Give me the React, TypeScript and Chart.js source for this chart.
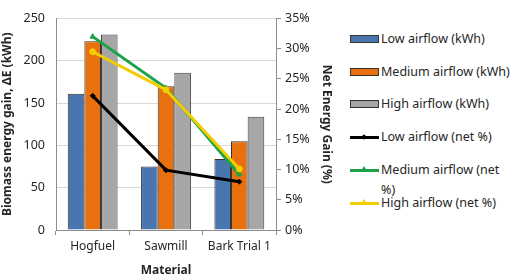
import React, { useEffect, useRef } from "react";
import { Chart, registerables } from "chart.js";

Chart.register(...registerables);

const categories = ["Hogfuel", "Sawmill", "Bark Trial 1"];
const lowKwh = [161, 75, 84];
const mediumKwh = [223, 170, 105];
const highKwh = [231, 186, 134];
const lowNet = [22.2, 9.9, 8.0];
const mediumNet = [32.0, 23.5, 9.2];
const highNet = [29.5, 23.2, 10.1];
const leftTicks = [0, 50, 100, 150, 200, 250];
const rightTicks = [0, 5, 10, 15, 20, 25, 30, 35];

const FONT = "'Noto Sans', sans-serif";

const legendItems = [
  { label: "Low airflow (kWh)", kind: "bar", color: "#4a76b0", marker: "" },
  { label: "Medium airflow (kWh)", kind: "bar", color: "#e8700e", marker: "" },
  { label: "High airflow (kWh)", kind: "bar", color: "#a6a6a6", marker: "" },
  { label: "Low airflow (net %)", kind: "line", color: "#000000", marker: "diamond" },
  { label: "Medium airflow (net\n%)", kind: "line", color: "#1aa34a", marker: "triangle" },
  { label: "High airflow (net %)", kind: "line", color: "#f2cd00", marker: "triangle" },
];

export default function App() {
  const ref = useRef<HTMLCanvasElement>(null);
  useEffect(() => {
    document.body.style.margin = "0";
    const chart = new Chart(ref.current!, {
      type: "bar",
      data: {
        labels: categories,
        datasets: [
          { type: "bar", label: "Low airflow (kWh)", data: lowKwh, backgroundColor: "#4a76b0", borderColor: "#333333", borderWidth: 1, yAxisID: "y", order: 10, barPercentage: 1, categoryPercentage: 0.68 },
          { type: "bar", label: "Medium airflow (kWh)", data: mediumKwh, backgroundColor: "#e8700e", borderColor: "#333333", borderWidth: 1, yAxisID: "y", order: 10, barPercentage: 1, categoryPercentage: 0.68 },
          { type: "bar", label: "High airflow (kWh)", data: highKwh, backgroundColor: "#a6a6a6", borderColor: "#404040", borderWidth: 1, yAxisID: "y", order: 10, barPercentage: 1, categoryPercentage: 0.68 },
          { type: "line", label: "Low airflow (net %)", data: lowNet, borderColor: "#000000", backgroundColor: "#000000", borderWidth: 3, pointStyle: "rectRot", pointRadius: 2.5, pointBorderWidth: 1, yAxisID: "y1", order: 3 },
          { type: "line", label: "Medium airflow (net %)", data: mediumNet, borderColor: "#1aa34a", backgroundColor: "#1aa34a", borderWidth: 3, pointStyle: "triangle", pointRadius: 3, pointBorderWidth: 1, yAxisID: "y1", order: 2 },
          { type: "line", label: "High airflow (net %)", data: highNet, borderColor: "#f2cd00", backgroundColor: "#f2cd00", borderWidth: 3, pointStyle: "circle", pointRadius: 3, pointBorderWidth: 1, yAxisID: "y1", order: 1 },
        ] as any,
      },
      options: {
        animation: false,
        responsive: false,
        maintainAspectRatio: false,
        layout: { padding: { top: 8, right: 0, left: 0, bottom: 0 } },
        plugins: { legend: { display: false }, tooltip: { enabled: false } },
        scales: {
          x: {
            offset: true,
            grid: { offset: true, drawOnChartArea: false, drawTicks: true, tickLength: 5, color: "#8c8c8c" },
            border: { display: true, color: "#8c8c8c" },
            ticks: { color: "#262626", font: { family: FONT, size: 12 }, padding: 4 },
            title: { display: true, text: "Material", color: "#262626", font: { family: FONT, size: 12, weight: "bold" }, padding: { top: 5, bottom: 0 } },
            afterFit: (s: any) => { s.height = 48; },
          },
          y: {
            position: "left",
            min: 0,
            max: 250,
            afterBuildTicks: (s: any) => { s.ticks = leftTicks.map((v) => ({ value: v })); },
            grid: { color: (ctx: any) => (ctx.tick && ctx.tick.value === 0 ? "#8c8c8c" : "#d9d9d9"), drawTicks: false },
            border: { display: true, color: "#8c8c8c" },
            ticks: { color: "#262626", font: { family: FONT, size: 12.5 }, padding: 11 },
            title: { display: true, text: "Biomass energy gain, ΔE (kWh)", color: "#262626", font: { family: FONT, size: 12, weight: "bold" }, padding: { top: 0, bottom: 2 } },
            afterFit: (s: any) => { s.width = 56; },
          },
          y1: {
            position: "right",
            min: 0,
            max: 35,
            afterBuildTicks: (s: any) => { s.ticks = rightTicks.map((v) => ({ value: v })); },
            grid: { drawOnChartArea: false, drawTicks: true, tickLength: 5, color: "#8c8c8c" },
            border: { display: true, color: "#8c8c8c" },
            ticks: { color: "#262626", font: { family: FONT, size: 12.5 }, padding: 4, callback: (v: any) => v + "%" },
            title: { display: true, text: "Net Energy Gain (%)", color: "#262626", font: { family: FONT, size: 12, weight: "bold" }, padding: { top: 4, bottom: 0 } },
            afterFit: (s: any) => { s.width = 62; },
          },
        },
      } as any,
    });
    return () => chart.destroy();
  }, []);

  const tops = [39, 72, 104, 137, 170, 203];
  return (
    <div style={{ position: "relative", width: 513, height: 278, fontFamily: FONT }}>
      <canvas ref={ref} width={338} height={278} style={{ position: "absolute", left: 0, top: 0, width: 338, height: 278 }} />
      {legendItems.map((it, i) => (
        <div key={i} style={{ position: "absolute", left: 350, top: tops[i] - 10, display: "flex", alignItems: "flex-start", fontSize: 12.5, color: "#262626", lineHeight: "20px", whiteSpace: "pre" }}>
          <div style={{ width: 29, height: 20, position: "relative", flex: "none" }}>
            {it.kind === "bar" ? (
              <div style={{ position: "absolute", left: 0, top: 6, width: 27, height: 6, background: it.color, border: "1px solid #333" }} />
            ) : (
              <>
                <div style={{ position: "absolute", left: 0, top: 9, width: 29, height: 3, background: it.color }} />
                {it.marker === "diamond" ? (
                  <div style={{ position: "absolute", left: 12, top: 8, width: 4, height: 4, background: it.color, transform: "rotate(45deg)" }} />
                ) : (
                  <div style={{ position: "absolute", left: 11, top: 6, width: 0, height: 0, borderLeft: "3.5px solid transparent", borderRight: "3.5px solid transparent", borderBottom: "5px solid " + it.color }} />
                )}
              </>
            )}
          </div>
          <span style={{ marginLeft: 2 }}>{it.label}</span>
        </div>
      ))}
    </div>
  );
}
